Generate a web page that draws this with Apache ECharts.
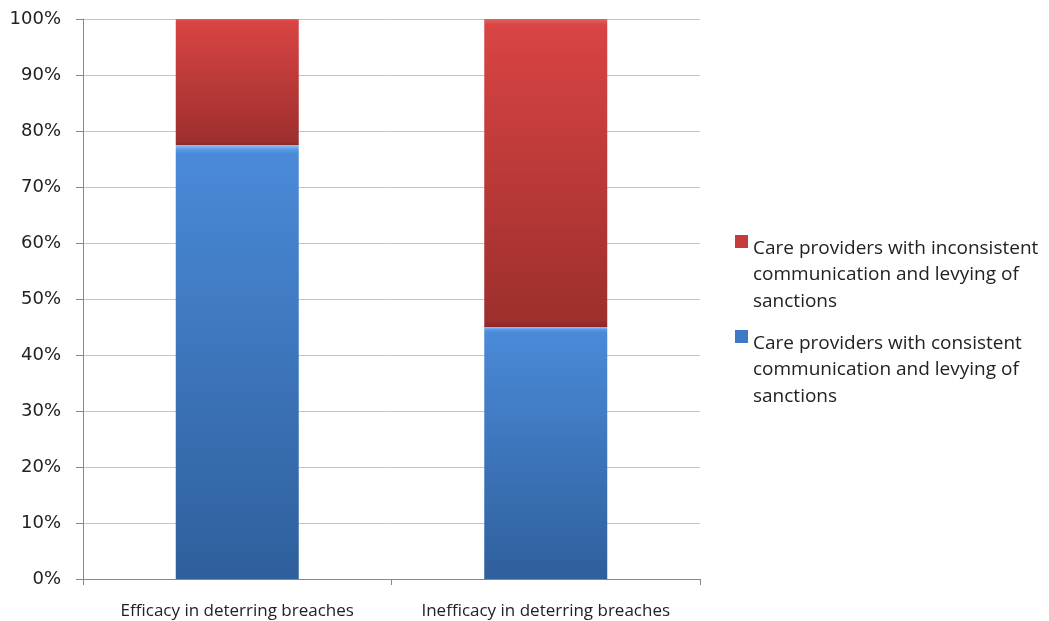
<!DOCTYPE html>
<html><head><meta charset="utf-8">
<script src="https://cdn.jsdelivr.net/npm/echarts@6/dist/echarts.min.js"></script>
<style>html,body{margin:0;padding:0;background:#fff}#c{width:1049px;height:621px}</style>
</head><body><div id="c"></div>
<script>
const categories = ['Efficacy in deterring breaches', 'Inefficacy in deterring breaches'];
const consistent = [77.5, 45];
const inconsistent = [22.5, 55];
const seriesNames = ['Care providers with consistent\ncommunication and levying of\nsanctions', 'Care providers with inconsistent\ncommunication and levying of\nsanctions'];
const yTicks = [0, 10, 20, 30, 40, 50, 60, 70, 80, 90, 100];

const chart = echarts.init(document.getElementById('c'));
function grad(stops){return new echarts.graphic.LinearGradient(0,0,0,1,stops.map(s=>({offset:s[0],color:s[1]})));}
const iconPath = 'path://M0,0h13v13h-13z M0,79.99h0.01v0.01h-0.01z';
chart.setOption({
  animation:false,
  textStyle:{fontFamily:'Open Sans, sans-serif'},
  grid:{left:83,right:349,top:19,bottom:42},
  legend:{
    orient:'vertical', left:730, top:230, itemWidth:13, itemHeight:80, itemGap:15,
    data:[
      {name:seriesNames[1], itemStyle:{color:'#c53a3a'}},
      {name:seriesNames[0], itemStyle:{color:'#3f78c4'}}
    ],
    textStyle:{fontSize:19, lineHeight:26.5, color:'#222', fontFamily:'Open Sans, sans-serif'},
    icon:iconPath
  },
  xAxis:{type:'category', data:categories,
    axisLine:{lineStyle:{color:'#888'}},
    axisTick:{show:true, length:6, lineStyle:{color:'#888'}},
    axisLabel:{interval:0, hideOverlap:false, fontSize:17, color:'#222', margin:24, fontFamily:'Open Sans, sans-serif'}},
  yAxis:{type:'value', min:0, max:100, interval:10,
    axisLine:{show:true, lineStyle:{color:'#888'}},
    axisTick:{show:true, length:7, lineStyle:{color:'#888'}},
    splitLine:{lineStyle:{color:'#c4c4c4'}},
    axisLabel:{fontSize:18, color:'#222', margin:22, fontFamily:'DejaVu Sans, sans-serif', formatter:v=>v+'%'}},
  series:[
    {name:seriesNames[0], type:'bar', stack:'s', barWidth:123, data:consistent,
     itemStyle:{color:grad([[0,'#8cc2f7'],[0.01,'#5c9ce6'],[0.02,'#4a8ad8'],[1,'#2f5f9c']])}},
    {name:seriesNames[1], type:'bar', stack:'s', barWidth:123, data:inconsistent,
     itemStyle:{color:grad([[0,'#e46060'],[0.02,'#d94444'],[0.98,'#9d2f2d'],[1,'#8a2826']])}}
  ]
});
</script></body></html>
